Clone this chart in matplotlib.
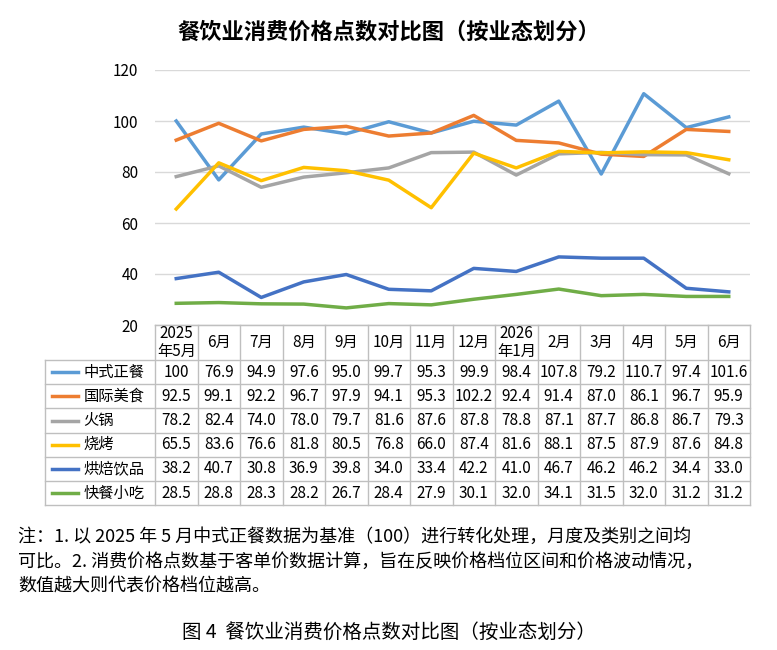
import matplotlib.pyplot as plt
from matplotlib.lines import Line2D

plt.rcParams['font.family'] = ['Noto Sans CJK SC', 'DejaVu Sans']

months = ['2025\n年5月', '6月', '7月', '8月', '9月', '10月', '11月', '12月',
          '2026\n年1月', '2月', '3月', '4月', '5月', '6月']
names = ['中式正餐', '国际美食', '火锅', '烧烤', '烘焙饮品', '快餐小吃']
zhongshi = [100, 76.9, 94.9, 97.6, 95.0, 99.7, 95.3, 99.9, 98.4, 107.8, 79.2, 110.7, 97.4, 101.6]
guoji = [92.5, 99.1, 92.2, 96.7, 97.9, 94.1, 95.3, 102.2, 92.4, 91.4, 87.0, 86.1, 96.7, 95.9]
huoguo = [78.2, 82.4, 74.0, 78.0, 79.7, 81.6, 87.6, 87.8, 78.8, 87.1, 87.7, 86.8, 86.7, 79.3]
shaokao = [65.5, 83.6, 76.6, 81.8, 80.5, 76.8, 66.0, 87.4, 81.6, 88.1, 87.5, 87.9, 87.6, 84.8]
hongbei = [38.2, 40.7, 30.8, 36.9, 39.8, 34.0, 33.4, 42.2, 41.0, 46.7, 46.2, 46.2, 34.4, 33.0]
kuaican = [28.5, 28.8, 28.3, 28.2, 26.7, 28.4, 27.9, 30.1, 32.0, 34.1, 31.5, 32.0, 31.2, 31.2]
series = [zhongshi, guoji, huoguo, shaokao, hongbei, kuaican]
colors = ['#5B9BD5', '#ED7D31', '#A5A5A5', '#FFC000', '#4472C4', '#70AD47']

fig = plt.figure(figsize=(7.77, 6.5), dpi=100)
W, H = 777, 650
left, right, top, bottom = 155, 750, 70, 325
ax = fig.add_axes([left / W, 1 - bottom / H, (right - left) / W, (bottom - top) / H])

x = list(range(len(months)))
for vals, c in zip(series, colors):
    ax.plot(x, vals, color=c, lw=2.5)
ax.set_xlim(-0.5, len(months) - 0.5)
ax.set_ylim(20, 120)
ax.set_yticks([20, 40, 60, 80, 100, 120])
ax.set_xticks([])
ax.grid(axis='y', color='#D9D9D9', lw=1)
ax.set_axisbelow(True)
for s in ['top', 'right', 'left']:
    ax.spines[s].set_visible(False)
ax.spines['bottom'].set_color('#BFBFBF')
ax.tick_params(axis='y', length=0, labelsize=11, pad=12)

# data table below the axes
axh = bottom - top
h0 = 35 / axh
r = 24.2 / axh
lab = 110 / (right - left)
n = len(months)
ln = dict(transform=ax.transAxes, clip_on=False, color='#BFBFBF', lw=1)
tb = -h0 - 6 * r
ax.plot([0, 1], [0, 0], **ln)
for i in range(7):
    y = -h0 - r * i
    ax.plot([-lab, 1], [y, y], **ln)
for j in range(n + 1):
    xx = j / n
    ax.plot([xx, xx], [0, tb], **ln)
ax.plot([-lab, -lab], [-h0, tb], **ln)
for j, m in enumerate(months):
    ax.text((j + 0.5) / n, -h0 / 2, m, transform=ax.transAxes, ha='center', va='center',
            fontsize=11, linespacing=1.1)
for i, (nm, vals, c) in enumerate(zip(names, series, colors)):
    y = -h0 - r * (i + 0.5)
    ax.add_line(Line2D([-lab + 0.012, -lab + 0.055], [y, y], transform=ax.transAxes,
                       color=c, lw=2.5, clip_on=False))
    ax.text(-lab + 0.065, y, nm, transform=ax.transAxes, ha='left', va='center', fontsize=11)
    for j, v in enumerate(vals):
        ax.text((j + 0.5) / n, y, f'{v:.1f}' if v != 100 else '100', transform=ax.transAxes,
                ha='center', va='center', fontsize=11)

fig.text(0.5, 1 - 32 / H, '餐饮业消费价格点数对比图（按业态划分）', ha='center', va='center',
         fontsize=16, fontweight='bold')
note = ('注：1. 以 2025 年 5 月中式正餐数据为基准（100）进行转化处理，月度及类别之间均\n'
        '可比。2. 消费价格点数基于客单价数据计算，旨在反映价格档位区间和价格波动情况，\n'
        '数值越大则代表价格档位越高。')
fig.text(18 / W, 1 - 562 / H, note, ha='left', va='center', fontsize=13, linespacing=1.5)
fig.text(0.5, 1 - 632 / H, '图 4  餐饮业消费价格点数对比图（按业态划分）', ha='center',
         va='center', fontsize=14)

fig.savefig('out.png', dpi=100)
